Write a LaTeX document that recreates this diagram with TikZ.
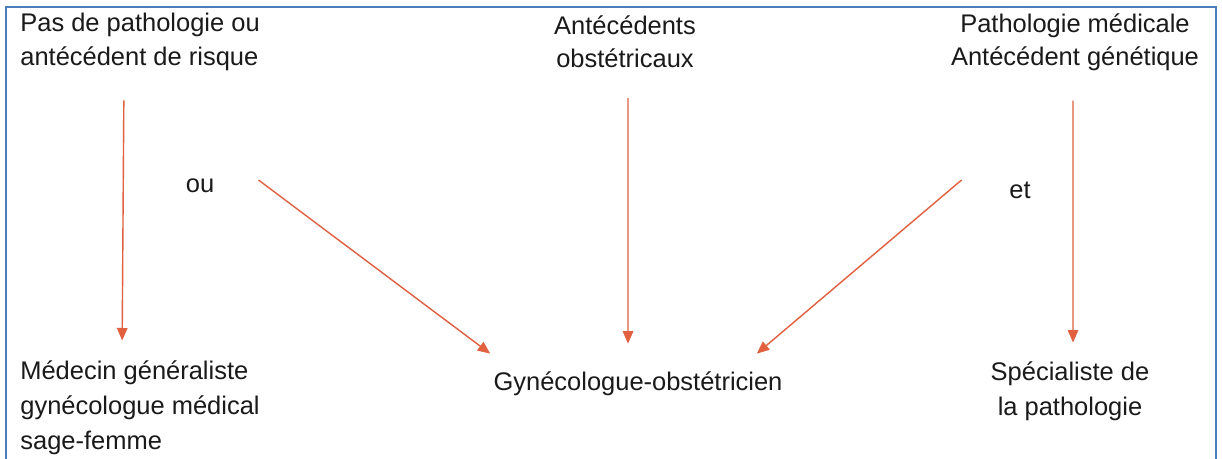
\documentclass[tikz,border=0pt]{standalone}
\usepackage{fontspec}
\setmainfont{Liberation Sans}
\usepackage{tikz}
\usetikzlibrary{arrows.meta,positioning}
\definecolor{FrameBlue}{HTML}{4A7EBB}
\definecolor{ArrowRed}{HTML}{E0603F}
\definecolor{TextDark}{HTML}{1A1A1A}

\begin{document}
\begin{tikzpicture}[x=0.02cm,y=-0.02cm,
    txt/.style={inner sep=0pt, text=TextDark, font=\fontsize{14.5}{20}\selectfont},
    toptxt/.style={txt, font=\fontsize{14.5}{19}\selectfont},
    flow/.style={draw=ArrowRed, line width=0.8pt, -{Triangle[length=2.5mm,width=2.1mm]}}]
      % frame of the figure
      \useasboundingbox (0,0) rectangle (1222,459);
      \fill[white] (0,0) rectangle (1222,459);
      \draw[FrameBlue, line width=1.6pt] (6,7) rectangle (1216,490);

      % situations
      \node[toptxt, align=left, anchor=west] (risk) at (20,42) {Pas de pathologie ou\\antécédent de risque};
      \node[toptxt, align=center] (obst) at (625,42) {Antécédents\\obstétricaux};
      \node[toptxt, align=center] (path) at (1075,42) {Pathologie médicale\\Antécédent génétique};
      \node[txt] (ou) at (200,186) {ou};
      \node[txt] (et) at (1020,190) {et};

      % who follows the pregnancy
      \node[txt, align=left, anchor=west] (gp) at (20,408) {Médecin généraliste\\gynécologue médical\\sage-femme};
      \node[txt] (gyn) at (638,384) {Gynécologue-obstétricien};
      \node[txt, align=center] (spec) at (1070,391) {Spécialiste de\\la pathologie};

      % arrows
      \draw[flow, shorten <=0.59cm, shorten >=0.4cm] ([xshift=-0.32cm]risk.south) -- ([xshift=-0.36cm]gp.north);
      \draw[flow, shorten <=0.59cm, shorten >=0.56cm] ([xshift=0.06cm]obst.south) -- ([xshift=-0.2cm]gyn.north);
      \draw[flow, shorten <=0.59cm, shorten >=0.37cm] ([xshift=-0.04cm]path.south) -- ([xshift=0.06cm]spec.north);
      \draw[flow] ([shift={(0.88cm,0.12cm)}]ou.east) -- ([shift={(-0.06cm,0.36cm)}]gyn.north west);
      \draw[flow] ([shift={(-0.95cm,0.2cm)}]et.west) -- ([shift={(-0.52cm,0.36cm)}]gyn.north east);
    \end{tikzpicture}
\end{document}
